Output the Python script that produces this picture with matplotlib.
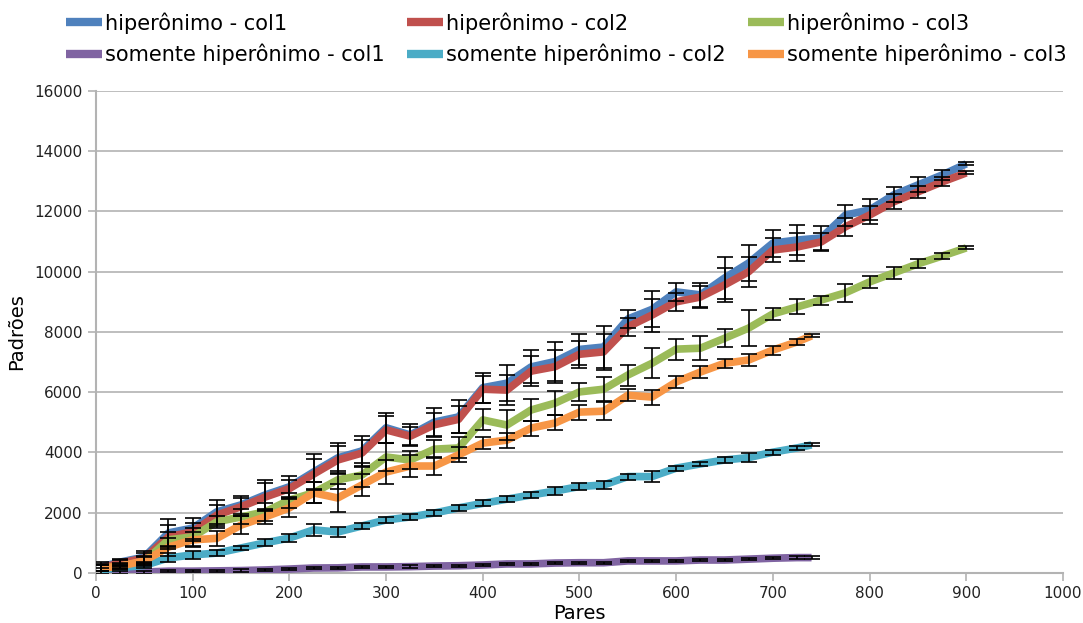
import matplotlib
matplotlib.use("Agg")
import matplotlib.pyplot as plt

# DATA -------------------
x_hyp = [5, 25, 50, 75, 100, 125, 150, 175, 200, 225, 250, 275, 300, 325, 350, 375, 400, 425,
         450, 475, 500, 525, 550, 575, 600, 625, 650, 675, 700, 725, 750, 775, 800, 825, 850, 875, 900]
x_som = [5, 25, 50, 75, 100, 125, 150, 175, 200, 225, 250, 275, 300, 325, 350, 375, 400, 425,
         450, 475, 500, 525, 550, 575, 600, 625, 650, 675, 700, 725, 740]

hip_col1 = [200, 360, 530, 1330, 1490, 2030, 2260, 2590, 2860, 3350, 3820, 4050, 4820, 4580, 5010, 5180,
            6150, 6300, 6840, 7020, 7420, 7500, 8430, 8750, 9330, 9230, 9790, 10290, 10950, 11050, 11120,
            11880, 12050, 12550, 12880, 13210, 13580]
hip_col2 = [170, 330, 490, 1200, 1370, 1920, 2200, 2520, 2800, 3280, 3750, 3980, 4750, 4540, 4920, 5100,
            6100, 6070, 6700, 6850, 7260, 7340, 8170, 8560, 9000, 9160, 9560, 10000, 10720, 10820, 10990,
            11490, 11880, 12320, 12650, 12980, 13280]
hip_col3 = [150, 220, 380, 1100, 1200, 1700, 1860, 2030, 2420, 2660, 3090, 3250, 3850, 3750, 4110, 4150,
            5080, 4910, 5410, 5640, 6010, 6100, 6570, 6960, 7430, 7460, 7790, 8130, 8600, 8830, 9060,
            9300, 9660, 9960, 10260, 10520, 10790]
som_col1 = [30, 20, 30, 60, 60, 70, 80, 100, 130, 165, 170, 200, 200, 210, 230, 240, 265, 300, 300, 330,
            340, 340, 400, 400, 400, 430, 430, 460, 490, 510, 510]
som_col2 = [100, 180, 250, 500, 600, 660, 830, 1000, 1160, 1430, 1360, 1560, 1760, 1860, 1990, 2160, 2310,
            2450, 2590, 2720, 2870, 2920, 3200, 3200, 3480, 3620, 3750, 3830, 4010, 4150, 4250]
som_col3 = [150, 230, 400, 860, 1100, 1150, 1590, 1860, 2160, 2660, 2490, 2920, 3350, 3550, 3550, 3920,
            4310, 4410, 4810, 4980, 5340, 5370, 5900, 5840, 6340, 6670, 6960, 7070, 7400, 7670, 7870]

err_hip_col1 = [150, 100, 200, 450, 350, 400, 300, 500, 350, 600, 500, 500, 500, 350, 450, 550, 500, 600,
                550, 650, 500, 700, 300, 600, 300, 400, 700, 600, 450, 500, 400, 350, 350, 250, 250, 150, 50]
err_hip_col2 = [120, 100, 180, 400, 300, 350, 300, 450, 300, 500, 450, 450, 450, 300, 400, 450, 450, 500,
                500, 550, 450, 600, 300, 550, 300, 350, 550, 500, 400, 450, 300, 300, 300, 250, 200, 150, 50]
err_hip_col3 = [100, 100, 150, 250, 300, 200, 250, 300, 250, 350, 300, 400, 450, 300, 300, 350, 350, 500,
                350, 400, 300, 400, 350, 500, 350, 400, 300, 600, 200, 250, 150, 300, 200, 200, 150, 100, 50]
err_som_col1 = [50, 40, 50, 40, 40, 40, 40, 40, 40, 40, 40, 40, 40, 40, 40, 40, 40, 40, 40, 40,
                40, 40, 40, 40, 40, 40, 40, 40, 40, 40, 40]
err_som_col2 = [50, 50, 100, 150, 120, 100, 80, 120, 120, 200, 180, 100, 100, 100, 100, 100, 100, 100,
                100, 130, 100, 120, 100, 180, 80, 80, 100, 150, 80, 80, 50]
err_som_col3 = [100, 80, 150, 300, 250, 250, 300, 250, 300, 350, 450, 350, 400, 350, 300, 250, 200, 250,
                250, 250, 250, 300, 200, 250, 200, 200, 150, 200, 150, 100, 50]

labels = ["hiperônimo - col1", "hiperônimo - col2", "hiperônimo - col3",
          "somente hiperônimo - col1", "somente hiperônimo - col2", "somente hiperônimo - col3"]
colors = ["#4f81bd", "#c0504d", "#9bbb59", "#8064a2", "#4bacc6", "#f79646"]

series = [
    (x_hyp, hip_col1, err_hip_col1),
    (x_hyp, hip_col2, err_hip_col2),
    (x_hyp, hip_col3, err_hip_col3),
    (x_som, som_col1, err_som_col1),
    (x_som, som_col2, err_som_col2),
    (x_som, som_col3, err_som_col3),
]

# PLOTTING -------------
plt.rcParams['font.family'] = ['DejaVu Sans']

fig = plt.figure(figsize=(10.83, 6.23), dpi=100)
ax = fig.add_axes([0.0886, 0.0803, 0.8929, 0.7737])

handles = {}
for (xs, ys, es), lab, col in zip(series, labels, colors):
    ln, = ax.plot(xs, ys, color=col, lw=5.5, solid_joinstyle='round', solid_capstyle='butt', zorder=3)
    handles[lab] = ln
for (xs, ys, es) in series:
    ax.errorbar(xs, ys, yerr=es, fmt='none', ecolor='black', elinewidth=1.2,
                capsize=5.5, capthick=1.2, zorder=4)

ax.set_xlim(0, 1000)
ax.set_ylim(0, 16000)
ax.set_xticks(range(0, 1001, 100))
ax.set_yticks(range(0, 16001, 2000))
ax.grid(axis='y', color='#b3b3b3', lw=1.2)
ax.set_axisbelow(True)
for s in ['top', 'right']:
    ax.spines[s].set_visible(False)
for s in ['left', 'bottom']:
    ax.spines[s].set_color('#b3b3b3')
    ax.spines[s].set_linewidth(1.5)
ax.tick_params(colors='#b3b3b3', labelcolor='#222222', labelsize=11, length=6, width=1.2)

ax.set_xlabel("Pares", fontsize=14, labelpad=2)
ax.set_ylabel("Padrões", fontsize=14, labelpad=6)

order = [labels[0], labels[3], labels[1], labels[4], labels[2], labels[5]]
leg = fig.legend([handles[l] for l in order], order, ncol=3, loc='upper left',
                 bbox_to_anchor=(0.0535, 0.994), borderaxespad=0, frameon=False, fontsize=15,
                 handlelength=1.7, handletextpad=0.15, columnspacing=1.1, labelspacing=0.5)
for h in leg.get_lines():
    h.set_linewidth(6)

fig.savefig("out.png", dpi=100)
